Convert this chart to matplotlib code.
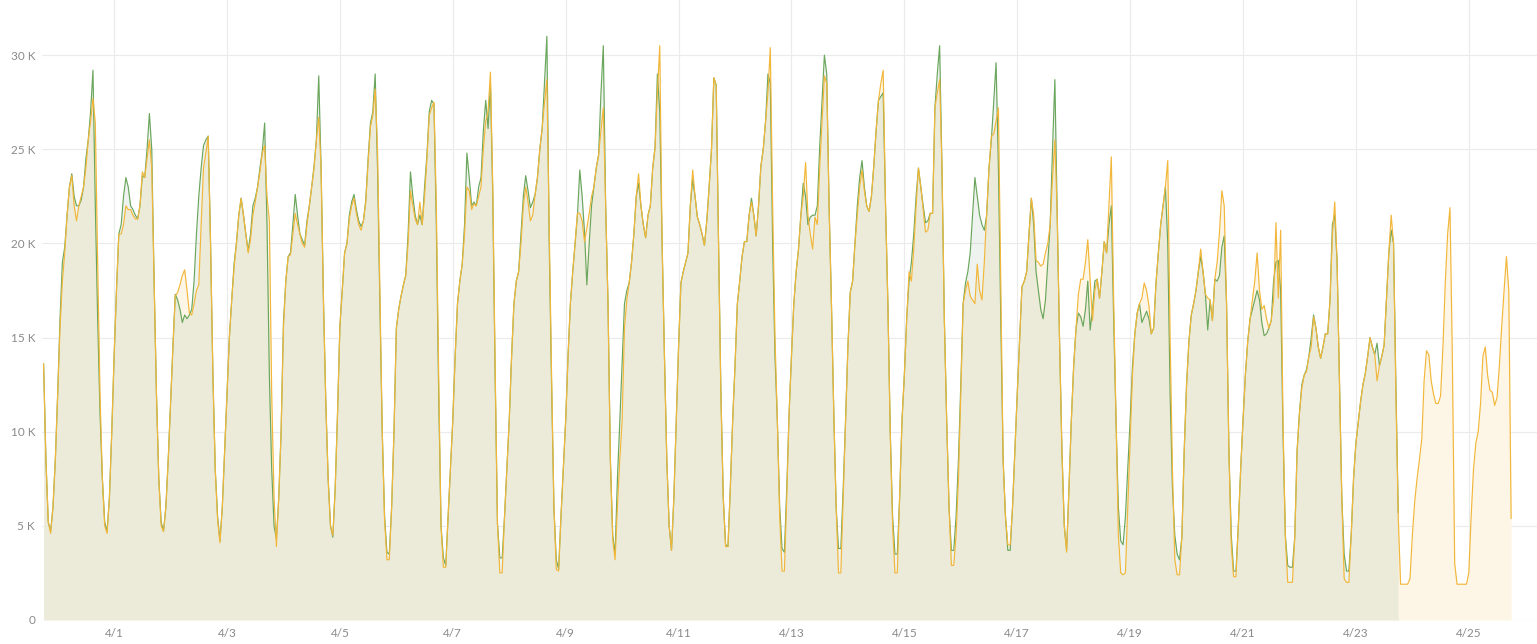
import matplotlib
matplotlib.use("Agg")
import matplotlib.pyplot as plt
import pandas as pd
from matplotlib.ticker import FuncFormatter

# hourly values (thousands), first point 3/30 18:00
start = "2019-03-30 18:00"
lead_in = [13.6, 8.5, 5.2]

# one row per day, 21:00 of the day before -> 20:00
green_days = [
    [4.7, 6.0, 8.5, 12, 16, 19, 19.8, 21.5, 23, 23.7, 22.5, 22, 22, 22.3, 23, 24.5, 25.5, 27, 29.2, 22, 16, 11, 7.5, 5.2],        # 3/31
    [4.7, 6.5, 10, 14, 17.5, 20.5, 21, 22.5, 23.5, 23, 22, 21.8, 21.5, 21.3, 22, 23.6, 23.5, 25, 26.9, 25, 18, 12, 7.5, 5.2],     # 4/1
    [4.7, 6, 8.5, 11.5, 14.5, 17.3, 17, 16.5, 15.8, 16.2, 16.0, 16.2, 16.5, 18, 20.5, 22.5, 24, 25.2, 25.5, 25.7, 20, 13, 8, 5.5], # 4/2
    [4.2, 6, 9, 12, 15, 17, 18.9, 20, 21.5, 22.4, 21.5, 20.5, 19.6, 20.5, 22, 22.4, 23, 24, 24.9, 26.4, 21, 13, 8, 5],             # 4/3
    [4.3, 6.5, 10, 15.8, 18, 19.3, 19.5, 21, 22.6, 21.5, 20.5, 20.2, 19.9, 21.2, 22, 23, 24.1, 25.5, 28.9, 24, 17, 11.6, 7.5, 5],  # 4/4
    [4.4, 7, 11, 15.6, 17.5, 19.5, 20, 21.5, 22.2, 22.6, 21.8, 21.2, 20.9, 21.2, 22.3, 24.5, 26.4, 27, 29, 24, 16.8, 10, 5.5, 3.6],  # 4/5
    [3.5, 6, 10, 15.5, 16.5, 17.2, 17.8, 18.3, 20.5, 23.8, 22.5, 21.5, 21, 21.5, 21, 23, 24.7, 27, 27.6, 27.4, 21, 12, 5, 3.3],    # 4/6
    [2.9, 5.5, 8, 10.6, 14, 16.8, 18, 18.9, 21, 24.8, 23.5, 22, 22.2, 22, 23, 23.5, 26, 27.6, 26.1, 28.5, 22.5, 13, 5.1, 3.3],     # 4/7
    [3.3, 5.5, 8, 10.6, 14, 16.8, 18, 18.5, 20.5, 22.5, 23.6, 22.8, 21.9, 22.2, 22.6, 23.5, 25, 26.1, 28.5, 31, 20, 12.5, 6, 3.2],  # 4/8
    [2.7, 5.5, 8, 10.6, 14, 16.8, 18.5, 20, 21.5, 23.9, 22.5, 20.6, 17.8, 20, 22, 23, 24, 24.7, 28, 30.5, 22, 16.8, 8.5, 4.5],     # 4/9
    [3.5, 7.5, 10.5, 13.7, 16.8, 17.5, 17.9, 19, 20.5, 22.5, 23.2, 22, 21, 20.3, 21.5, 22, 24, 25.1, 29, 27, 20, 14, 8.5, 5],      # 4/10
    [3.7, 6.5, 10.5, 14.5, 17.9, 18.5, 19, 19.5, 22, 23.4, 22.5, 21.4, 21, 20.5, 19.9, 21.2, 23, 25, 28.8, 28.4, 20, 12, 6.5, 4],  # 4/11
    [3.9, 7, 10.6, 13.5, 16.8, 18, 19.3, 20.1, 20.1, 21.5, 22.4, 21.5, 20.4, 22, 24.1, 25, 26.5, 29, 28.5, 20, 14, 10.6, 6, 3.8],  # 4/12
    [3.6, 7, 11, 14, 16.8, 18.5, 19.7, 21.5, 23.2, 22.5, 21, 21.4, 21.5, 21.5, 22, 25.1, 27.5, 30, 29, 22, 16.8, 11, 6, 3.8],      # 4/13
    [3.8, 7, 10.6, 14.5, 17.4, 18, 20, 22, 23.5, 24.4, 23, 22, 21.7, 22.5, 24.1, 26, 27.6, 27.8, 28, 22, 16.8, 10, 5.5, 3.5],      # 4/14
    [3.5, 6.5, 10.6, 13, 16, 18, 19, 20.5, 22.5, 24, 23, 22, 21.1, 21.2, 21.6, 21.6, 27.2, 29, 30.5, 24, 16, 10.6, 6, 3.7],        # 4/15
    [3.7, 5.5, 8.5, 12.5, 16.8, 17.9, 18.5, 19.5, 21.5, 23.5, 22.5, 21.5, 21, 20.7, 21.5, 24, 25.5, 27.5, 29.6, 24, 16, 8.5, 5.5, 3.7],  # 4/16
    [3.7, 6, 9, 12, 14.8, 17.7, 18, 18.5, 20.5, 22.4, 21, 18.5, 17.5, 16.5, 16, 17, 19, 21, 25, 28.7, 21.5, 14.8, 9, 5],           # 4/17
    [3.7, 7, 10.6, 13.5, 15.5, 16.3, 16.1, 15.6, 16.5, 18, 15.4, 16.5, 18, 18.1, 17.1, 18.5, 20.1, 19.5, 21, 22, 16, 10.6, 6, 4.2],  # 4/18
    [4.0, 5.5, 8, 10.6, 13.5, 15.2, 16.3, 16.8, 15.8, 16.1, 16.4, 16.0, 15.2, 15.5, 17.9, 19.5, 21, 22, 23, 20, 12, 7, 4.5, 3.5],  # 4/19
    [3.2, 4.4, 9, 12.5, 14.8, 16.2, 16.8, 17.5, 18.5, 19.3, 18.5, 17.3, 15.4, 17, 15.9, 18.1, 18, 18.3, 19.8, 20.4, 16.8, 9, 4.5, 2.6],  # 4/20
    [2.6, 5, 8, 10.6, 13, 14.8, 16, 16.5, 17, 17.5, 17, 15.8, 15.1, 15.2, 15.5, 15.9, 18, 19, 19.1, 17.5, 10, 4.5, 2.9, 2.8],      # 4/21
    [2.8, 4.4, 9, 11, 12.5, 13, 13.3, 14, 15, 16.2, 15.5, 14.5, 13.9, 14.5, 15.2, 15.2, 17, 21, 21.5, 19, 12.7, 6.5, 3.5, 2.6],    # 4/22
    [2.6, 4.5, 7.5, 9.4, 10.5, 11.6, 12.5, 13.1, 14, 15, 14.5, 14.1, 14.7, 13.5, 14, 14.6, 17, 19.5, 20.7, 20, 12.5, 5.7],         # 4/23 (ends)
]

orange_days = [
    [4.6, 6, 8.5, 12, 15.5, 18, 19.5, 21.5, 23, 23.6, 22, 21.2, 22, 22.5, 23, 24, 25.5, 26.5, 27.7, 26.4, 19, 12, 7.5, 5],        # 3/31
    [4.6, 6.5, 10, 14, 17.5, 20.5, 20.5, 21, 22, 21.8, 21.8, 21.5, 21.3, 21.3, 22, 23.8, 23.5, 24.5, 25.5, 24, 18, 12, 7.5, 5],    # 4/1
    [4.7, 6, 8.5, 11.5, 14.5, 17.2, 17.4, 17.8, 18.3, 18.6, 17.5, 16.3, 16.2, 16.8, 17.5, 17.8, 21, 24, 24.8, 25.7, 20, 13, 8, 5.3],  # 4/2
    [4.1, 6, 9, 12, 15, 17, 18.7, 20, 21.5, 22.4, 21.5, 20.5, 19.5, 20.2, 21.5, 22.2, 23, 23.8, 24.8, 25.2, 22.5, 21.2, 12, 6.5],  # 4/3
    [3.9, 6.5, 10, 15.5, 18, 19.3, 19.4, 20.5, 21.6, 21, 20.5, 20, 19.8, 21, 22, 23, 24, 25.5, 26.7, 24, 17, 11.6, 7.5, 5],        # 4/4
    [4.5, 7, 11, 15.6, 17.5, 19.5, 20, 21.3, 22, 22.4, 21.6, 21, 20.7, 21.2, 22.2, 24.3, 26.2, 26.8, 28.2, 25, 17.5, 10, 5.3, 3.2],  # 4/5
    [3.2, 6, 10, 15.5, 16.5, 17.2, 17.8, 18.3, 20, 22.8, 22, 21.3, 21, 22.2, 21, 22.5, 24.5, 26.8, 27.2, 27.5, 22, 13, 5, 2.8],    # 4/6
    [2.8, 5.5, 8, 10.6, 14, 16.8, 18, 18.9, 20.5, 23, 22.8, 21.8, 22.1, 22, 22.5, 23, 25, 26.5, 27, 29.1, 23, 13.5, 5.1, 2.5],     # 4/7
    [2.5, 5.5, 8, 10.6, 14, 16.8, 18, 18.5, 20, 22, 23, 22.2, 21.2, 21.5, 22.6, 23.5, 25, 26.1, 27.5, 28.7, 21, 13, 6, 2.7],       # 4/8
    [2.6, 5.5, 8, 10.6, 14, 16.8, 18.5, 20, 21.6, 21.6, 21.2, 20.1, 20.8, 21.6, 22.5, 23, 24, 24.7, 26, 27.2, 22, 16.8, 8.5, 4.3],  # 4/9
    [3.2, 6, 8.5, 10.6, 15.5, 17, 17.9, 19, 20.5, 22.5, 23.7, 22, 21, 20.3, 21.5, 22, 24, 25.1, 28, 30.5, 20, 14, 8.5, 5],         # 4/10
    [3.7, 6.5, 10.5, 14.5, 17.9, 18.5, 19, 19.5, 22, 23.9, 22.5, 21.4, 21, 20.5, 19.9, 21.2, 23, 25, 28.8, 28.4, 20, 12, 6.5, 3.9],  # 4/11
    [3.9, 7, 10.6, 13.5, 16.8, 18, 19.3, 20.1, 20.1, 21.5, 22.2, 21.5, 20.4, 22, 24.1, 25, 26.5, 28, 30.4, 22, 15, 10.6, 5.5, 2.6],  # 4/12
    [2.6, 6.5, 11, 14, 16.8, 18.5, 19.7, 21.5, 22.5, 24.3, 21.5, 20.5, 19.7, 21.4, 21, 24, 26.5, 28.9, 28.5, 22, 16.8, 11, 6, 2.5],  # 4/13
    [2.5, 6.5, 10.6, 14.5, 17.4, 18, 20, 21.5, 23, 23.9, 22.8, 22, 21.7, 22.5, 24.1, 26, 27.6, 28.5, 29.2, 22, 16.8, 10, 5, 2.5],  # 4/14
    [2.5, 6.5, 10.6, 13, 16, 18.5, 18, 19.7, 22, 24, 23, 21.8, 20.6, 20.7, 21.6, 21.6, 27.2, 28, 28.7, 24, 16, 10.6, 6, 2.9],      # 4/15
    [2.9, 4.5, 7.5, 12, 16.8, 17.5, 18, 17.2, 17, 16.8, 18.9, 17.5, 17, 19, 21.6, 24, 25.7, 25.8, 26.5, 27.2, 18, 8.5, 5.5, 4],    # 4/16
    [4, 6, 9, 12, 14.8, 17.7, 18, 18.5, 20.5, 22.4, 21.5, 19.1, 19, 18.8, 18.9, 19.5, 20, 21, 23.5, 25.5, 21.5, 14.8, 9, 5],       # 4/17
    [3.6, 7, 10.6, 13.5, 15.5, 17.3, 18.1, 18.1, 19, 20.2, 18, 15.9, 17.5, 18.1, 17.1, 18.5, 20.1, 19.5, 22, 24.6, 17, 10.6, 4.5, 2.5],  # 4/18
    [2.4, 2.5, 6, 9.5, 13, 15.2, 16.3, 16.8, 17.1, 17.9, 17.5, 16.7, 15.2, 15.5, 17.9, 19.5, 21, 22, 23, 24.4, 15, 8, 3.2, 2.4],   # 4/19
    [2.4, 4.4, 9, 12.5, 14.8, 16.2, 16.8, 17.5, 18.5, 19.7, 18.5, 17.3, 17.1, 17, 15.9, 18.1, 19, 20.6, 22.8, 22, 16.8, 9, 4, 2.3],  # 4/20
    [2.3, 5, 8, 10.6, 13, 14.8, 16, 17, 18, 19.5, 17.5, 16.5, 16.7, 16, 15.5, 15.9, 17, 21.1, 17.1, 20.7, 10.6, 4.4, 2, 2],        # 4/21
    [2, 4.4, 9, 11, 12.3, 13, 13.2, 14, 14.5, 16.1, 15.5, 14.5, 13.9, 14.5, 15.2, 15.2, 17, 20.4, 22.2, 19, 12.7, 6.5, 2.2, 2],    # 4/22
    [2, 4.5, 7.5, 9.4, 10.5, 11.6, 12.5, 13.1, 14, 15, 14.5, 14.1, 12.7, 13.5, 14, 14.6, 17, 19.5, 21.5, 20, 12, 5.5, 1.9, 1.9],   # 4/23
    [1.9, 1.9, 2.2, 4.5, 6.3, 7.5, 8.5, 9.6, 12.7, 14.3, 14.1, 12.7, 12, 11.5, 11.5, 11.9, 14.5, 17.9, 20.5, 21.9, 14, 3, 1.9, 1.9],  # 4/24
    [1.9, 1.9, 1.9, 2.5, 5.5, 8, 9.4, 10, 11.5, 14, 14.5, 13, 12.2, 12.1, 11.4, 11.8, 13.5, 15.6, 17.5, 19.3, 17.5, 5.4],          # 4/25 (ends)
]

tick_dates = ["2019-04-01", "2019-04-03", "2019-04-05", "2019-04-07", "2019-04-09", "2019-04-11", "2019-04-13",
              "2019-04-15", "2019-04-17", "2019-04-19", "2019-04-21", "2019-04-23", "2019-04-25"]
tick_labels = ["4/1", "4/3", "4/5", "4/7", "4/9", "4/11", "4/13", "4/15", "4/17", "4/19", "4/21", "4/23", "4/25"]
y_ticks = [0, 5000, 10000, 15000, 20000, 25000, 30000]

green = [v * 1000 for v in lead_in + [x for day in green_days for x in day]]
orange = [v * 1000 for v in lead_in + [x for day in orange_days for x in day]]
green_t = pd.date_range(start, periods=len(green), freq="h")
orange_t = pd.date_range(start, periods=len(orange), freq="h")

plt.rcParams["font.family"] = ["Lato", "DejaVu Sans"]

fig = plt.figure(figsize=(15.37, 6.44), dpi=100)
ax = fig.add_axes([42 / 1537, 24 / 644, 1 - 42 / 1537, 620 / 644])

ax.fill_between(orange_t, 0, orange, color="#fdf6e6", lw=0, zorder=1)
ax.fill_between(green_t, 0, green, color="#5d8f6f", alpha=0.1, lw=0, zorder=2)
ax.plot(green_t, green, color="#6aa65c", lw=0.85, zorder=3)
ax.plot(orange_t, orange, color="#f2b73a", lw=0.85, zorder=4)

t0 = pd.Timestamp(start)
ax.set_xlim(t0 - pd.Timedelta(minutes=40), t0 + pd.Timedelta(hours=635))
ax.set_ylim(0, 32930)

ax.set_xticks(pd.to_datetime(tick_dates))
ax.set_xticklabels(tick_labels)
ax.set_yticks(y_ticks)
ax.yaxis.set_major_formatter(FuncFormatter(lambda v, p: "0" if v == 0 else f"{int(v / 1000)} K"))

ax.grid(True, color="#ebebeb", lw=0.8)
ax.set_axisbelow(True)
for s in ax.spines.values():
    s.set_visible(False)
ax.tick_params(axis="both", length=0, colors="#8a8a8a", labelsize=8.5)
ax.tick_params(axis="x", pad=6)
ax.tick_params(axis="y", pad=5)

fig.savefig("out.png", dpi=100)
